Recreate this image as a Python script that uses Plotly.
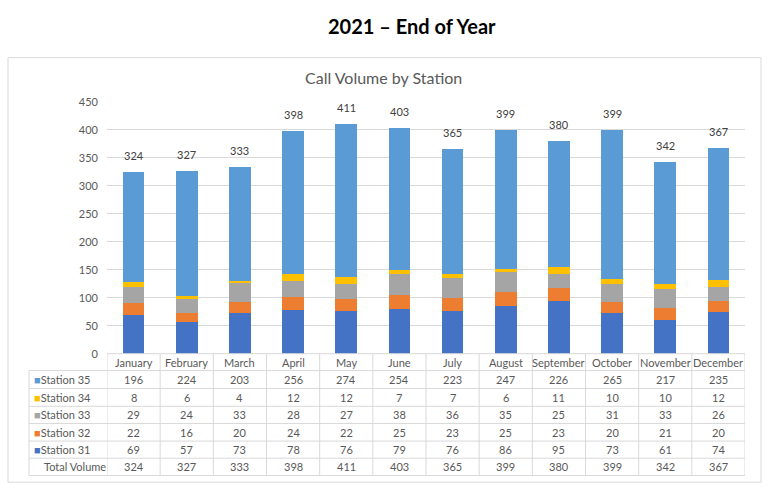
import plotly.graph_objects as go

months = ["January", "February", "March", "April", "May", "June", "July",
          "August", "September", "October", "November", "December"]
station_31 = [69, 57, 73, 78, 76, 79, 76, 86, 95, 73, 61, 74]
station_32 = [22, 16, 20, 24, 22, 25, 23, 25, 23, 20, 21, 20]
station_33 = [29, 24, 33, 28, 27, 38, 36, 35, 25, 31, 33, 26]
station_34 = [8, 6, 4, 12, 12, 7, 7, 6, 11, 10, 10, 12]
station_35 = [196, 224, 203, 256, 274, 254, 223, 247, 226, 265, 217, 235]
total_volume = [324, 327, 333, 398, 411, 403, 365, 399, 380, 399, 342, 367]

series = [
    ("Station 31", station_31, "#4472C4"),
    ("Station 32", station_32, "#ED7D31"),
    ("Station 33", station_33, "#A5A5A5"),
    ("Station 34", station_34, "#FFC000"),
    ("Station 35", station_35, "#5B9BD5"),
]

W, H = 768, 498
FONT = "Lato"
GRID = "#D9D9D9"
TXT = "#595959"


def px(x):
    return x / W


def py(y):
    return 1 - y / H


fig = go.Figure()
for name, vals, col in series:
    fig.add_trace(go.Bar(x=months, y=vals, name=name, marker_color=col,
                         marker_line_width=0, width=0.41, showlegend=False,
                         hoverinfo="skip"))

annotations = []
# total labels above bars
for m, t in zip(months, total_volume):
    annotations.append(dict(x=m, y=t, xref="x", yref="y", text=str(t),
                            showarrow=False, xanchor="center", yanchor="bottom", yshift=8,
                            font=dict(family=FONT, size=11, color="#404040")))

# titles
annotations.append(dict(x=px(412), y=py(20), xref="paper", yref="paper",
                        text="<b>2021 – End of Year</b>", showarrow=False,
                        xanchor="center", yanchor="middle",
                        font=dict(family=FONT, size=20, color="#000000")))
annotations.append(dict(x=px(383), y=py(72), xref="paper", yref="paper",
                        text="Call Volume by Station", showarrow=False,
                        xanchor="center", yanchor="middle",
                        font=dict(family=FONT, size=16, color=TXT)))

# table layout (pixel rows)
row_edges = [356, 373.3, 391.7, 410, 427.7, 445.7, 463.3, 481]
row_centers = [(row_edges[i] + row_edges[i + 1]) / 2 for i in range(len(row_edges) - 1)]
table_rows = [("Station 35", station_35, "#5B9BD5"),
              ("Station 34", station_34, "#FFC000"),
              ("Station 33", station_33, "#A5A5A5"),
              ("Station 32", station_32, "#ED7D31"),
              ("Station 31", station_31, "#4472C4"),
              ("Total Volume", total_volume, None)]

tfont = dict(family=FONT, size=11, color=TXT)
# header
for m in months:
    annotations.append(dict(x=m, y=py(row_centers[0]), xref="x", yref="paper",
                            text=m, showarrow=False, xanchor="center", yanchor="middle",
                            font=tfont))
for r, (label, vals, col) in enumerate(table_rows):
    yc = py(row_centers[r + 1])
    if col:
        lbl = f"<span style='color:{col}'>■</span>{label}"
        annotations.append(dict(x=px(32), y=yc, xref="paper", yref="paper",
                                text=lbl, showarrow=False, xanchor="left",
                                yanchor="middle", font=tfont))
    else:
        annotations.append(dict(x=px(42), y=yc, xref="paper", yref="paper",
                                text=label, showarrow=False, xanchor="left",
                                yanchor="middle", font=tfont))
    for m, v in zip(months, vals):
        annotations.append(dict(x=m, y=yc, xref="x", yref="paper", text=str(v),
                                showarrow=False, xanchor="center", yanchor="middle",
                                font=tfont))

shapes = []
lw = dict(color=GRID, width=1)
# outer chart box
shapes.append(dict(type="rect", xref="paper", yref="paper", x0=px(8), x1=px(761),
                   y0=py(488), y1=py(52), line=lw, layer="below"))
# horizontal table lines
shapes.append(dict(type="line", xref="paper", yref="paper", x0=px(107), x1=px(745),
                   y0=py(356), y1=py(356), line=lw))
for ye in row_edges[1:]:
    shapes.append(dict(type="line", xref="paper", yref="paper", x0=px(29), x1=px(745),
                       y0=py(ye), y1=py(ye), line=lw))
# vertical table lines
for i in range(len(months) + 1):
    shapes.append(dict(type="line", xref="x", yref="paper", x0=i - 0.5, x1=i - 0.5,
                       y0=py(356), y1=py(481), line=lw))
shapes.append(dict(type="line", xref="paper", yref="paper", x0=px(29), x1=px(29),
                   y0=py(373.3), y1=py(481), line=lw))

fig.update_layout(
    width=W, height=H, margin=dict(l=0, r=0, t=0, b=0),
    paper_bgcolor="white", plot_bgcolor="white",
    barmode="stack", bargap=0.59,
    annotations=annotations, shapes=shapes,
    xaxis=dict(domain=[px(107), px(745)], range=[-0.5, 11.5], showticklabels=False,
               showgrid=False, zeroline=False, showline=False, ticks=""),
    yaxis=dict(domain=[py(356), py(97.3)], range=[0, 450], dtick=50,
               showgrid=True, gridcolor=GRID, gridwidth=1, zeroline=False,
               showline=False, ticks="", ticklabelstandoff=8,
               tickfont=dict(family=FONT, size=11, color=TXT)),
    font=dict(family=FONT),
)

fig.write_html("out.html",
               config={"displayModeBar": False},
               post_script="document.body.style.margin='0';document.body.style.overflow='hidden';")
